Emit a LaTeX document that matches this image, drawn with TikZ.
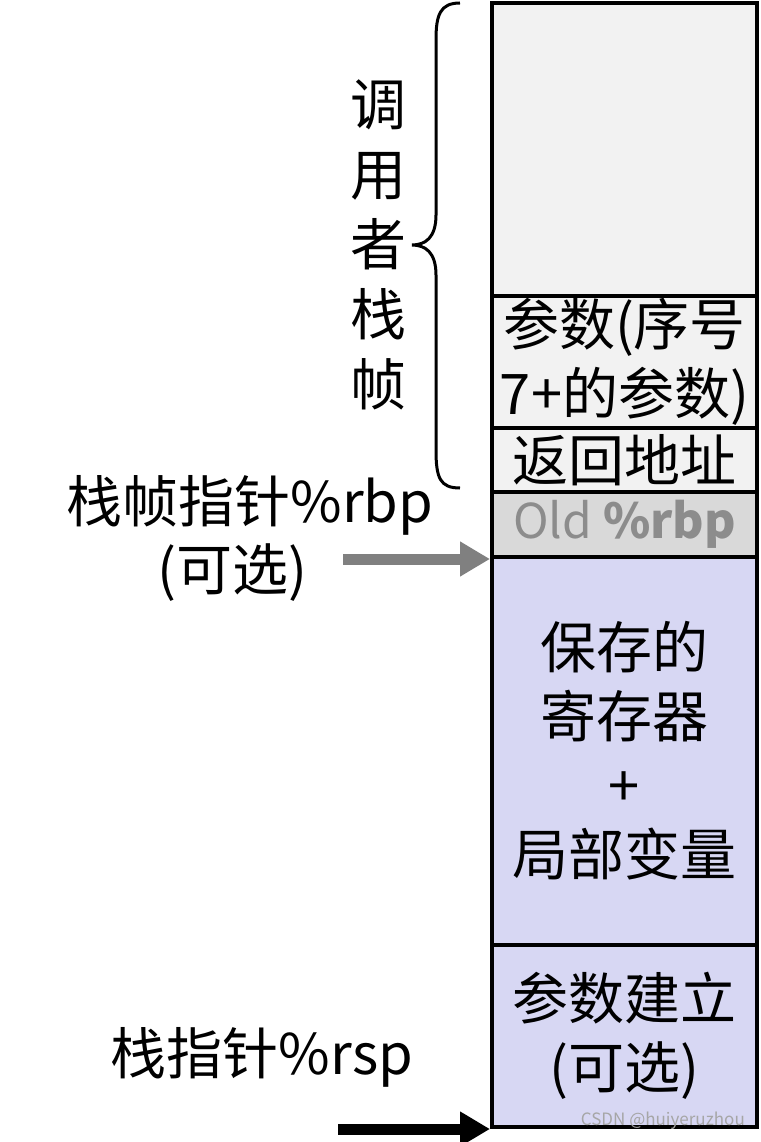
\documentclass[tikz,border=0pt]{standalone}
\usepackage{fontspec}
\setmainfont{Noto Sans CJK SC}
\usetikzlibrary{arrows.meta}
\definecolor{cellgray}{RGB}{242,242,242}
\definecolor{oldgray}{RGB}{217,217,217}
\definecolor{lav}{RGB}{215,215,243}
\definecolor{oldtext}{RGB}{140,140,140}
\definecolor{arrgray}{RGB}{128,128,128}
\tikzset{
  cell/.style={draw=black, line width=4pt, minimum width=265pt, inner sep=0pt, align=center,
    font=\fontsize{56}{69}\selectfont},
  lbl/.style={inner sep=0pt, align=center, font=\fontsize{56}{70}\selectfont},
  bigarrow/.style={line width=11pt, -{Triangle[length=30pt,width=33pt]}},
}
\begin{document}
\begin{tikzpicture}[x=1pt,y=-1pt]
\useasboundingbox (0,0) rectangle (760,1142);
\node[cell, fill=cellgray, minimum height=293pt] (top) at (624.5,149.5) {};
\node[cell, fill=cellgray, minimum height=132pt] (args) at (624.5,362) {参数(序号\\7+的参数)};
\node[cell, fill=cellgray, minimum height=64pt] (ret) at (624.5,460) {返回地址};
\node[cell, fill=oldgray, minimum height=65pt, text=oldtext, font=\fontsize{48}{58}\selectfont] (old) at (624.5,524.5) {Old \textbf{\%rbp}};
\node[cell, fill=lav, minimum height=388pt] (saved) at (624.5,751) {保存的\\寄存器\\+\\局部变量};
\node[cell, fill=lav, minimum height=182pt] (setup) at (624.5,1036) {参数建立\\(可选)};
% brace
\draw[line width=3pt] (460,3) .. controls (440,3) and (436,15) .. (436,40) -- (436,215)
  .. controls (436,238) and (425,245) .. (412,245)
  .. controls (425,245) and (436,252) .. (436,275) -- (436,450)
  .. controls (436,478) and (440,488) .. (460,488);
\node[lbl] (caller) at (378,245) {调\\用\\者\\栈\\帧};
\node[lbl] (rbplbl) at (250,505) {栈帧指针\%rbp};
\node[lbl] (rbpopt) at (232,573) {(可选)};
\node[lbl] (rsplbl) at (262,1057) {栈指针\%rsp};
\coordinate (rbpstart) at (343,555);
\coordinate (rspstart) at (338,1125);
\draw[bigarrow, arrgray] (rbpstart |- old.south west) -- (old.south west);
\draw[bigarrow, black] (rspstart |- setup.south west) -- (setup.south west);
\node[inner sep=0pt, text=black!35, font=\fontsize{17}{19}\selectfont, anchor=east] (wm) at (745,1121) {CSDN @huiyeruzhou};
\end{tikzpicture}
\end{document}
